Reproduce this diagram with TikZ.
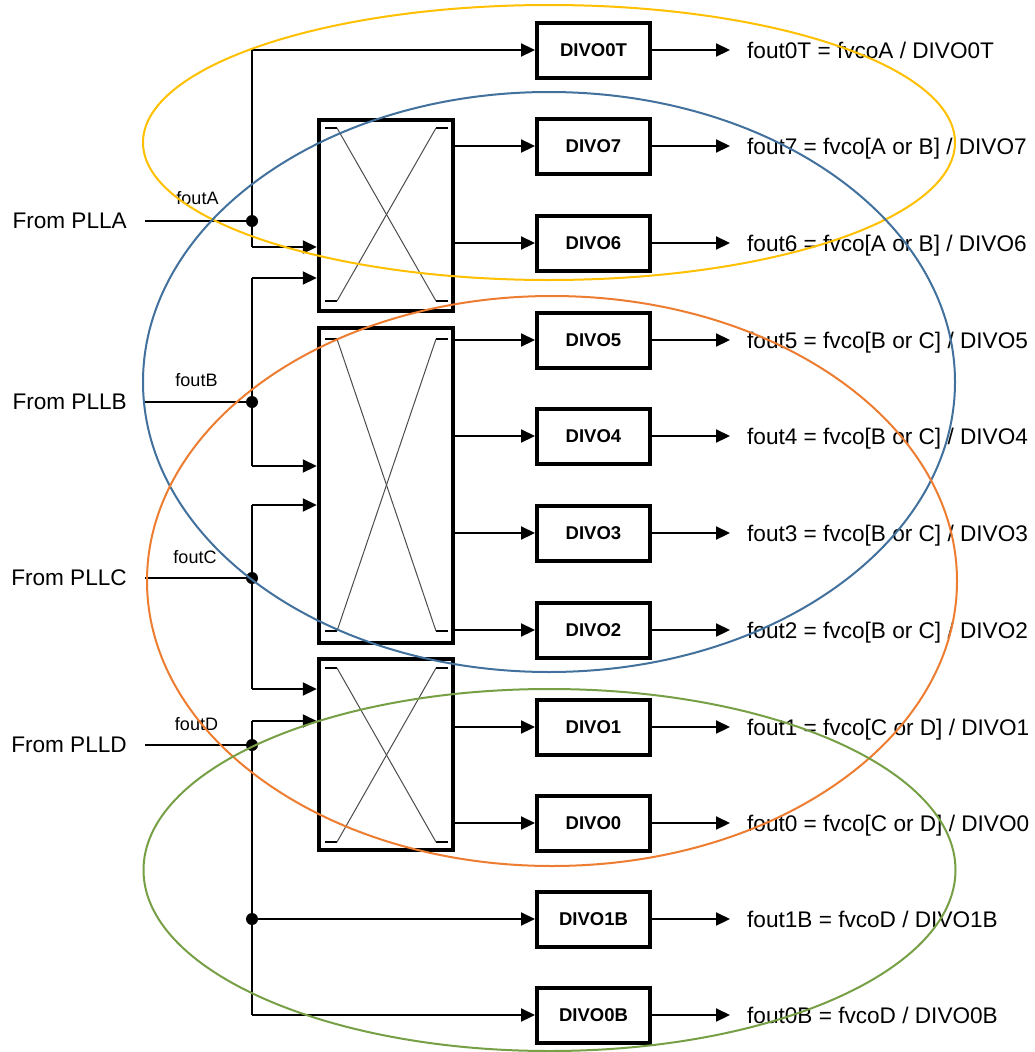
\documentclass[tikz,border=0pt]{standalone}
\usepackage{fontspec}
\setmainfont{Liberation Sans}
\usetikzlibrary{arrows.meta}
\definecolor{ringY}{HTML}{FFC000}
\definecolor{ringB}{HTML}{41719C}
\definecolor{ringO}{HTML}{ED7D31}
\definecolor{ringG}{HTML}{77A046}
\newcommand\xbarinside[2]{%
  \draw[xtick] (325,#1) -- (337,#1);
  \draw[xtick] (436,#1) -- (448,#1);
  \draw[xtick] (325,#2) -- (337,#2);
  \draw[xtick] (436,#2) -- (448,#2);
  \draw[xline] (337,#1) -- (436,#2);
  \draw[xline] (436,#1) -- (337,#2);
}
\begin{document}
\begin{tikzpicture}[x=1pt,y=-1pt,
  wire/.style={line width=2.2pt},
  arr/.style={wire,-{Triangle[length=14pt,width=13pt]}},
  divo/.style={draw,line width=4pt,minimum width=113pt,minimum height=55pt,inner sep=0pt,font=\fontsize{18.5}{20}\selectfont\bfseries},
  xbar/.style={draw,line width=4.5pt,inner sep=0pt,minimum width=134pt},
  outlbl/.style={anchor=base west,inner sep=0pt,font=\fontsize{22.6}{26}\selectfont},
  inlbl/.style={anchor=east,inner sep=0pt,font=\fontsize{22.6}{26}\selectfont},
  flbl/.style={inner sep=0pt,font=\fontsize{18}{20}\selectfont},
  dot/.style={circle,fill,inner sep=0pt,minimum size=12pt},
  xline/.style={line width=1pt,draw=black!70},
  xtick/.style={line width=2pt},
  ring/.style={line width=2pt}]
\useasboundingbox (0,0) rectangle (1034,1052);
\fill[white] (0,0) rectangle (1034,1052);

% crossbars
\node[xbar,minimum height=191pt] (xb1) at (386,215.5) {};
\node[xbar,minimum height=315pt] (xb2) at (386,485.5) {};
\node[xbar,minimum height=191pt] (xb3) at (386,754.5) {};
\xbarinside{128}{301}
\xbarinside{339}{631}
\xbarinside{668}{842}

% dividers
\node[divo] (d0T) at (593.5,50) {DIVO0T};
\node[divo] (d7)  at (593.5,146) {DIVO7};
\node[divo] (d6)  at (593.5,243) {DIVO6};
\node[divo] (d5)  at (593.5,340) {DIVO5};
\node[divo] (d4)  at (593.5,436) {DIVO4};
\node[divo] (d3)  at (593.5,533) {DIVO3};
\node[divo] (d2)  at (593.5,630) {DIVO2};
\node[divo] (d1)  at (593.5,727) {DIVO1};
\node[divo] (d0)  at (593.5,823) {DIVO0};
\node[divo] (d1B) at (593.5,919) {DIVO1B};
\node[divo] (d0B) at (593.5,1015) {DIVO0B};

% output labels
\node[outlbl] (o0T) at (747,58) {fout0T = fvcoA / DIVO0T};
\node[outlbl] (o7)  at (747,154) {fout7 = fvco[A or B] / DIVO7};
\node[outlbl] (o6)  at (747,251) {fout6 = fvco[A or B] / DIVO6};
\node[outlbl] (o5)  at (747,348) {fout5 = fvco[B or C] / DIVO5};
\node[outlbl] (o4)  at (747,444) {fout4 = fvco[B or C] / DIVO4};
\node[outlbl] (o3)  at (747,541) {fout3 = fvco[B or C] / DIVO3};
\node[outlbl] (o2)  at (747,638) {fout2 = fvco[B or C] / DIVO2};
\node[outlbl] (o1)  at (747,735) {fout1 = fvco[C or D] / DIVO1};
\node[outlbl] (o0)  at (747,831) {fout0 = fvco[C or D] / DIVO0};
\node[outlbl] (o1B) at (747,927) {fout1B = fvcoD / DIVO1B};
\node[outlbl] (o0B) at (747,1023) {fout0B = fvcoD / DIVO0B};

\foreach \n in {0T,7,6,5,4,3,2,1,0,1B,0B}
  \draw[arr,shorten >=17pt] (d\n.east) -- (d\n.east -| o\n.west);

% crossbar outputs
\foreach \n in {7,6} \draw[arr] (xb1.east |- d\n) -- (d\n.west);
\foreach \n in {5,4,3,2} \draw[arr] (xb2.east |- d\n) -- (d\n.west);
\foreach \n in {1,0} \draw[arr] (xb3.east |- d\n) -- (d\n.west);

% inputs
\node[inlbl] (pA) at (127,221) {From PLLA};
\node[inlbl] (pB) at (127,402) {From PLLB};
\node[inlbl] (pC) at (127,578) {From PLLC};
\node[inlbl] (pD) at (127,745) {From PLLD};
\node[flbl] (fA) at (197.5,198.5) {foutA};
\node[flbl] (fB) at (196.5,380) {foutB};
\node[flbl] (fC) at (195,557) {foutC};
\node[flbl] (fD) at (196.5,724) {foutD};

\node[dot] (jA) at (252,221) {};
\node[dot] (jB) at (252,402) {};
\node[dot] (jC) at (252,578) {};
\node[dot] (jD) at (252,745) {};
\node[dot] (jD2) at (252,919) {};

\coordinate (aT) at (252,50);
\coordinate (aB) at (252,247);
\coordinate (bT) at (252,278);
\coordinate (bB) at (252,466);
\coordinate (cT) at (252,505);
\coordinate (cB) at (252,689);
\coordinate (dT) at (252,721);
\coordinate (dB) at (252,1015);

\foreach \p/\j in {pA/jA,pB/jB,pC/jC,pD/jD}
  \draw[wire] ([xshift=18pt]\p.east) -- (\j.center);

\draw[wire] (aT) -- (aB);
\draw[wire] (bT) -- (bB);
\draw[wire] (cT) -- (cB);
\draw[wire] (dT) -- (dB);

\draw[arr] (aT) -- (d0T.west);
\draw[arr] (aB) -- (aB -| xb1.west);
\draw[arr] (bT) -- (bT -| xb1.west);
\draw[arr] (bB) -- (bB -| xb2.west);
\draw[arr] (cT) -- (cT -| xb2.west);
\draw[arr] (cB) -- (cB -| xb3.west);
\draw[arr] (dT) -- (dT -| xb3.west);
\draw[arr] (jD2.center) -- (d1B.west);
\draw[arr] (dB) -- (d0B.west);

% groups
\draw[ring,ringY] (549,142.5) ellipse [x radius=406pt, y radius=137.5pt];
\draw[ring,ringB] (549,382) ellipse [x radius=406pt, y radius=290pt];
\draw[ring,ringO] (552,581) ellipse [x radius=405pt, y radius=285pt];
\draw[ring,ringG] (549.5,870) ellipse [x radius=406pt, y radius=181pt];
\end{tikzpicture}
\end{document}
